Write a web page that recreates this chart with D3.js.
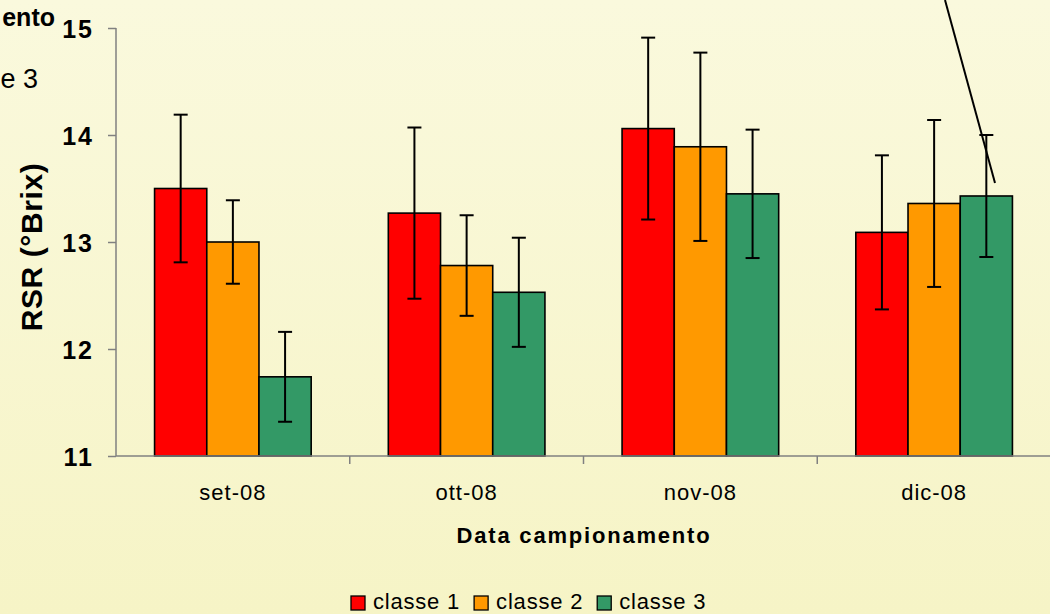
<!DOCTYPE html>
<html>
<head>
<meta charset="utf-8">
<script src="https://cdn.jsdelivr.net/npm/d3@7"></script>
<style>
  body { margin: 0; background: #f8f7d2; }
  svg { display: block; font-family: "Liberation Sans", Arial, sans-serif; }
</style>
</head>
<body>
<svg id="chart"></svg>
<script>
// data
const categories = ["set-08", "ott-08", "nov-08", "dic-08"];
const seriesNames = ["classe 1", "classe 2", "classe 3"];
const seriesColors = ["#ff0000", "#ff9900", "#339966"];
const classe1 = [13.50, 13.27, 14.06, 13.09];
const classe2 = [13.00, 12.78, 13.89, 13.36];
const classe3 = [11.74, 12.53, 13.45, 13.43];
const err1 = [0.69, 0.80, 0.85, 0.72];
const err2 = [0.39, 0.47, 0.88, 0.78];
const err3 = [0.42, 0.51, 0.60, 0.57];
const yTicks = [11, 12, 13, 14, 15];

const width = 1050, height = 614;
const margin = { left: 116, top: 28, right: -1, bottom: 158 };

const svg = d3.select("#chart").attr("width", width).attr("height", height);

// background gradient
let defs = svg.append("defs");
let grad = defs.append("linearGradient").attr("id", "bg").attr("x1", 0).attr("y1", 0).attr("x2", 0).attr("y2", 1);
grad.append("stop").attr("offset", "0%").attr("stop-color", "#faf9dd");
grad.append("stop").attr("offset", "100%").attr("stop-color", "#f6f4c6");
svg.append("rect").attr("width", width).attr("height", height).attr("fill", "url(#bg)");

let values = [classe1, classe2, classe3];
let errs = [err1, err2, err3];
let data = categories.map((c, i) => ({
  cat: c,
  bars: seriesNames.map((s, j) => ({ s: j, v: values[j][i], e: errs[j][i] }))
}));

let x = d3.scaleBand().domain(categories).range([margin.left, width - margin.right]).paddingInner(0.33).paddingOuter(0.165);
let x1 = d3.scaleBand().domain(d3.range(seriesNames.length)).range([0, x.bandwidth()]);
let y = d3.scaleLinear().domain([11, 15]).range([height - margin.bottom, margin.top]);

// bars
let groups = svg.append("g").selectAll("g").data(data).enter().append("g")
  .attr("transform", (d) => "translate(" + x(d.cat) + ",0)");

groups.selectAll("rect").data((d) => d.bars).enter().append("rect")
  .attr("x", (d) => x1(d.s))
  .attr("y", (d) => y(d.v))
  .attr("width", x1.bandwidth())
  .attr("height", (d) => y(11) - y(d.v))
  .attr("fill", (d) => seriesColors[d.s])
  .attr("stroke", "#000")
  .attr("stroke-width", 1.6);

// error bars
let eb = groups.selectAll("g.err").data((d) => d.bars).enter().append("g").attr("class", "err")
  .attr("stroke", "#000").attr("stroke-width", 2);
eb.append("line")
  .attr("x1", (d) => x1(d.s) + x1.bandwidth() / 2).attr("x2", (d) => x1(d.s) + x1.bandwidth() / 2)
  .attr("y1", (d) => y(d.v + d.e)).attr("y2", (d) => y(d.v - d.e));
eb.append("line")
  .attr("x1", (d) => x1(d.s) + x1.bandwidth() / 2 - 7).attr("x2", (d) => x1(d.s) + x1.bandwidth() / 2 + 7)
  .attr("y1", (d) => y(d.v + d.e)).attr("y2", (d) => y(d.v + d.e));
eb.append("line")
  .attr("x1", (d) => x1(d.s) + x1.bandwidth() / 2 - 7).attr("x2", (d) => x1(d.s) + x1.bandwidth() / 2 + 7)
  .attr("y1", (d) => y(d.v - d.e)).attr("y2", (d) => y(d.v - d.e));

// y axis
let yAxis = svg.append("g").attr("transform", "translate(" + margin.left + ",0)")
  .call(d3.axisLeft(y).tickValues(yTicks).tickSize(8).tickPadding(14).tickFormat(d3.format("d")));
yAxis.selectAll("line, path").attr("stroke", "#808080").attr("stroke-width", 1.5);
yAxis.select("path").attr("d", "M0," + y(15) + "V" + y(11));
yAxis.selectAll("text").attr("font-size", 25).attr("font-weight", "bold").attr("fill", "#000")
  .attr("letter-spacing", 2).attr("dy", "0.36em")
  .attr("font-family", "Liberation Sans, Arial, sans-serif");

// x axis
let xAxis = svg.append("g").attr("transform", "translate(0," + y(11) + ")");
xAxis.append("line").attr("x1", margin.left).attr("x2", width).attr("stroke", "#808080").attr("stroke-width", 1.5);
let step = x.step();
xAxis.selectAll("line.tick").data(d3.range(1, categories.length)).enter().append("line")
  .attr("x1", (i) => margin.left + i * step).attr("x2", (i) => margin.left + i * step)
  .attr("y1", 0).attr("y2", 8).attr("stroke", "#808080").attr("stroke-width", 1.5);
xAxis.selectAll("text").data(categories).enter().append("text")
  .attr("x", (d) => x(d) + x.bandwidth() / 2).attr("y", 44)
  .attr("text-anchor", "middle").attr("font-size", 22).attr("letter-spacing", 1).text((d) => d);

// axis titles
svg.append("text").attr("x", 584).attr("y", 543).attr("text-anchor", "middle")
  .attr("font-size", 22).attr("letter-spacing", 1.8).attr("font-weight", "bold").text("Data campionamento");
svg.append("text").attr("transform", "translate(42,247) rotate(-90)").attr("text-anchor", "middle")
  .attr("font-size", 30).attr("letter-spacing", 0.6).attr("font-weight", "bold").text("RSR (°Brix)");

// legend
let legend = svg.append("g").attr("transform", "translate(351,609)");
let lx = 0;
seriesNames.forEach((s, i) => {
  legend.append("rect").attr("x", lx).attr("y", -13).attr("width", 14).attr("height", 14)
    .attr("fill", seriesColors[i]).attr("stroke", "#000").attr("stroke-width", 1.3);
  let t = legend.append("text").attr("x", lx + 22).attr("y", 0).attr("font-size", 22)
    .attr("letter-spacing", 0.8).text(s);
  lx += 22 + t.node().getComputedTextLength() + 14;
});

// fragments cut off at the edges of the original picture
svg.append("text").attr("x", 55).attr("y", 26).attr("text-anchor", "end").attr("font-size", 25)
  .attr("font-weight", "bold").text("ento");
svg.append("text").attr("x", 38).attr("y", 88).attr("text-anchor", "end").attr("font-size", 27)
  .text("e 3");
svg.append("line").attr("x1", 945).attr("y1", 0).attr("x2", 995).attr("y2", 183)
  .attr("stroke", "#000").attr("stroke-width", 2);
</script>
</body>
</html>
